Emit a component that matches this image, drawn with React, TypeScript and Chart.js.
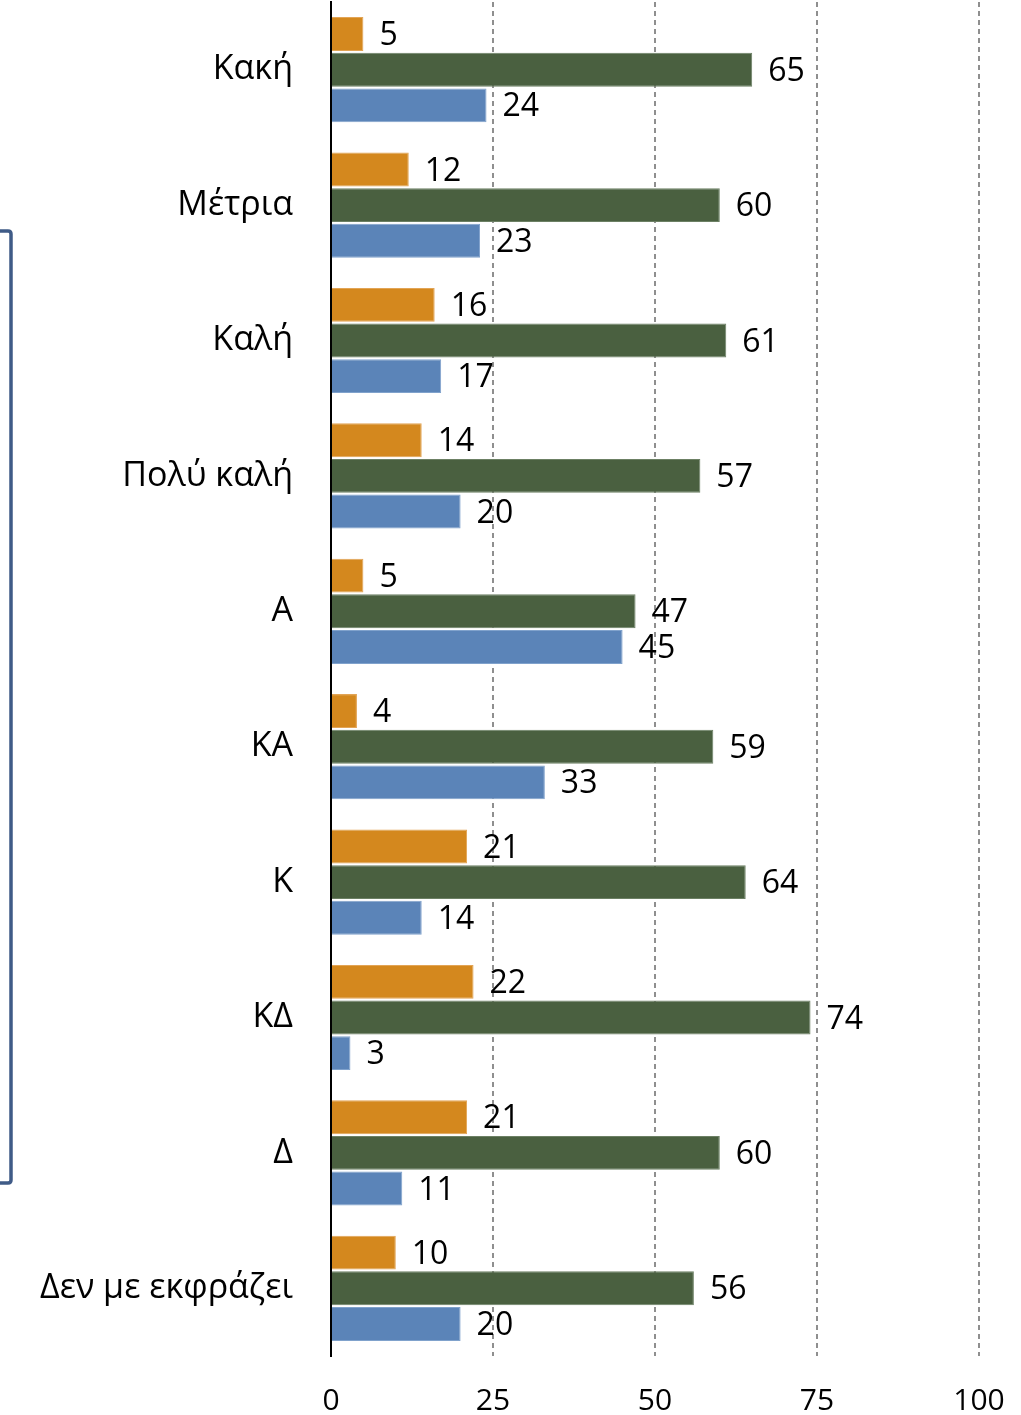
import React, { useEffect, useRef } from "react";
import { Chart, registerables } from "chart.js";

Chart.register(...registerables);

const categories = ["Κακή", "Μέτρια", "Καλή", "Πολύ καλή", "Α", "ΚΑ", "Κ", "ΚΔ", "Δ", "Δεν με εκφράζει"];
const orangeValues = [5, 12, 16, 14, 5, 4, 21, 22, 21, 10];
const greenValues = [65, 60, 61, 57, 47, 59, 64, 74, 60, 56];
const blueValues = [24, 23, 17, 20, 45, 33, 14, 3, 11, 20];
const xTicks = [0, 25, 50, 75, 100];

const FONT = "'Open Sans', 'Noto Sans', sans-serif";

const valueLabels = {
  id: "valueLabels",
  afterDatasetsDraw(chart: any) {
    const ctx = chart.ctx;
    ctx.save();
    ctx.font = `32px ${FONT}`;
    ctx.fillStyle = "#000";
    ctx.textAlign = "left";
    ctx.textBaseline = "middle";
    chart.data.datasets.forEach((ds: any, di: number) => {
      const meta = chart.getDatasetMeta(di);
      meta.data.forEach((el: any, i: number) => {
        ctx.fillText(String(ds.data[i]), el.x + 16, el.y + 2);
      });
    });
    ctx.restore();
  },
};

const bracket = {
  id: "bracket",
  afterDraw(chart: any) {
    const ctx = chart.ctx;
    ctx.save();
    ctx.strokeStyle = "#3F5B87";
    ctx.lineWidth = 3.5;
    ctx.beginPath();
    ctx.moveTo(-5, 231);
    ctx.lineTo(8, 231);
    ctx.quadraticCurveTo(11, 231, 11, 234);
    ctx.lineTo(11, 1180);
    ctx.quadraticCurveTo(11, 1183, 8, 1183);
    ctx.lineTo(-5, 1183);
    ctx.stroke();
    ctx.restore();
  },
};

export default function App() {
  const ref = useRef<HTMLCanvasElement>(null);
  useEffect(() => {
    document.body.style.margin = "0";
    const chart = new Chart(ref.current!, {
      type: "bar",
      data: {
        labels: categories,
        datasets: [
          { data: orangeValues, backgroundColor: "#D4881E", borderColor: "#E2A455", borderWidth: 1 },
          { data: greenValues, backgroundColor: "#4A6040", borderColor: "#6C8064", borderWidth: 1 },
          { data: blueValues, backgroundColor: "#5B84B8", borderColor: "#80A2CC", borderWidth: 1 },
        ],
      },
      plugins: [valueLabels, bracket],
      options: {
        indexAxis: "y",
        animation: false,
        responsive: false,
        devicePixelRatio: 1,
        layout: { padding: { left: 0, right: 42, top: 2, bottom: 0 } },
        plugins: { legend: { display: false }, tooltip: { enabled: false } },
        datasets: { bar: { categoryPercentage: 0.79, barPercentage: 0.95 } },
        scales: {
          x: {
            min: 0,
            max: 100,
            afterBuildTicks: (s: any) => {
              s.ticks = xTicks.map((v) => ({ value: v }));
            },
            afterFit: (s: any) => {
              s.height = 59;
              s.paddingLeft = 0;
              s.paddingRight = 0;
            },
            border: { display: false, dash: [5, 4] },
            grid: {
              color: (c: any) => (c.tick && c.tick.value === 0 ? "rgba(0,0,0,0)" : "#8F8F8F"),
              lineWidth: 2,
              drawTicks: false,
            },
            ticks: { color: "#000", font: { family: FONT, size: 30 }, padding: 27, maxRotation: 0 },
          },
          y: {
            afterFit: (s: any) => {
              s.width = 331;
              s.paddingTop = 0;
              s.paddingBottom = 0;
            },
            border: { display: true, color: "#000", width: 2 },
            grid: { display: false },
            ticks: { color: "#000", font: { family: FONT, size: 34 }, padding: 30 },
          },
        },
      },
    } as any);
    return () => chart.destroy();
  }, []);
  return <canvas ref={ref} width={1021} height={1415} style={{ display: "block" }} />;
}
